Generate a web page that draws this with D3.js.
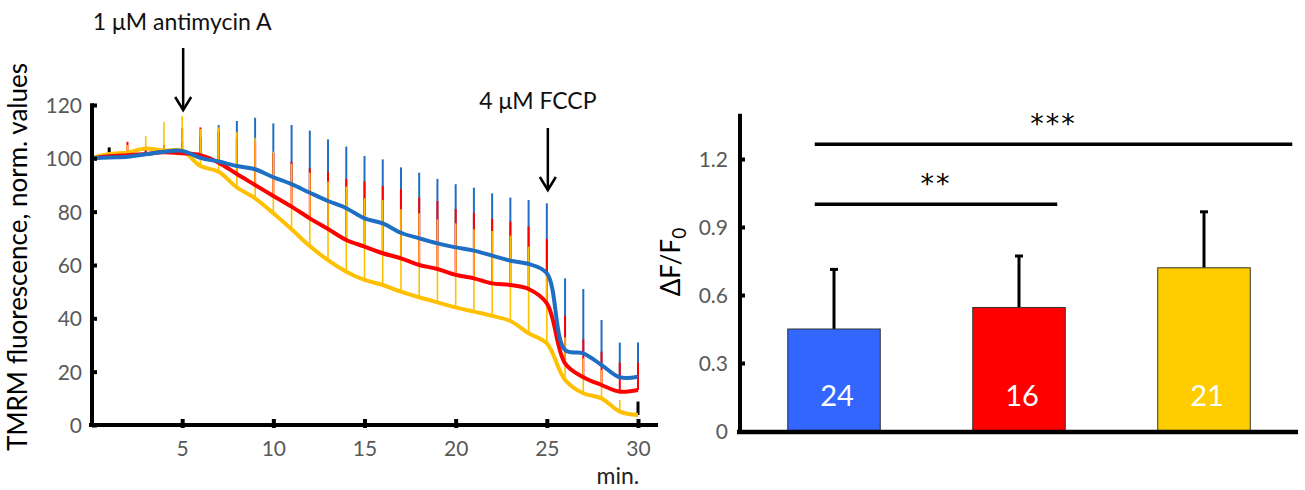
<!DOCTYPE html>
<html><head><meta charset="utf-8">
<script src="https://cdn.jsdelivr.net/npm/d3@7"></script>
<style>body{margin:0;background:#fff}svg{display:block}text{font-family:Lato,"Open Sans",sans-serif}</style>
</head><body>
<svg id="c" width="1305" height="490"></svg>
<script>
// ---------- Left panel data ----------
const minutes = [0,1,2,3,4,5,6,7,8,9,10,11,12,13,14,15,16,17,18,19,20,21,22,23,24,25,26,27,28,29,30];
const blueMean   = [100,100.3,100.6,101.5,102.5,102.8,100.2,98.8,97.1,95.9,92.9,90.3,87.1,84,81.3,77.5,75.6,72.1,70,68.1,66.6,65.4,63.5,61.6,60.4,56.9,28.1,26.9,22.5,17.9,18.1];
const redMean    = [100,100.8,101.2,101.6,102.3,101.9,101.2,98.4,94.1,90,85.9,81.9,77.5,73.5,69.4,66.9,64.4,62.5,60,58.5,56.3,55,53.1,52.5,51,45.6,23.1,17.9,15,12.5,13.1];
const yellowMean = [100,101.6,102.2,103.7,102.9,102.9,97.1,95,89.1,85,79.4,73.4,67.1,61.8,57.5,54.4,52.5,50,47.9,46,44.1,42.5,40.9,39,34.4,30.6,16.9,11.9,10,5,3.75];
const blueTop    = [100,101.5,102,104,104.5,106,108,112.5,114,115.2,113.1,112.5,110.4,107.1,104.4,100.9,99.6,96.6,94.6,92.3,90.3,89,86.9,85.3,84.4,83.1,55,51,39.4,30.9,30.9];
const redTop     = [100,102.5,106.2,104,105,111.3,111.6,110,108,106,102,98.75,96.25,95,92.3,91.3,89.6,88.5,85.3,84,81,79.6,77.3,76.3,74.4,69.75,41,32.1,27.5,23.4,23.4];
const yellowTop  = [100,104.1,105,108.4,113.7,115.9,111,111.6,110,107.75,102.5,98,94.6,91.3,89.4,85,84.4,80.9,79.4,77.1,75.6,73.4,72.75,71,66.9,57,32.9,25,20.6,9.4,8.8];
const yellowBlackErr = [1,30];
const leftYTicks = [0,20,40,60,80,100,120];
const leftXTicks = [5,10,15,20,25,30];
const events = [{t:5, label:"1 \u03BCM antimycin A"},{t:25, label:"4 \u03BCM FCCP"}];

// ---------- Right panel data ----------
const groups = ["G1","G2","G3"];
const nLabels = ["24","16","21"];
const barMeans = [0.45,0.545,0.72];
const barErrTop = [0.713,0.772,0.967];
const rightYTicks = [0,0.3,0.6,0.9,1.2];
const rightYTickLabels = ["0","0.3","0.6","0.9","1.2"];
const sigLevels = [1.0,1.265];
const sigLabels = ["**","***"];

const svg = d3.select("#c");
const GRAY = "#595959";
const TICKFS = "21px";

// ================= LEFT =================
const x = d3.scaleLinear().domain([0,30]).range([91,638]);
const y = d3.scaleLinear().domain([0,120]).range([425,105]);
const gL = svg.append("g");

const series = [
  {mean:blueMean, top:blueTop, color:"#1E6FC3", w:2},
  {mean:redMean, top:redTop, color:"#FF0000", w:2},
  {mean:yellowMean, top:yellowTop, color:"#FFC000", w:1.6}
];
series.forEach(s=>{
  gL.append("g").selectAll("line").data(minutes.filter(m=>s.top[m]>s.mean[m])).join("line")
    .attr("x1",d=>x(d)).attr("x2",d=>x(d))
    .attr("y1",d=>y(s.mean[d])).attr("y2",d=>y(s.top[d]))
    .attr("stroke",d=>(s.color==="#FFC000" && yellowBlackErr.includes(d))?"#000":s.color)
    .attr("stroke-width",d=>(s.color==="#FFC000" && yellowBlackErr.includes(d))?3:s.w);
});
const line = vals => d3.line().x(d=>x(d)).y(d=>y(vals[d])).curve(d3.curveCatmullRom.alpha(0.5))(minutes);
[[yellowMean,"#FFC000"],[redMean,"#FF0000"],[blueMean,"#1E6FC3"]].forEach(([v,c])=>{
  gL.append("path").attr("d",line(v)).attr("fill","none").attr("stroke",c).attr("stroke-width",4).attr("stroke-linejoin","round");
});

// axes
gL.append("line").attr("x1",x(0)-2).attr("x2",x(31.1)).attr("y1",y(0)).attr("y2",y(0)).attr("stroke","#000").attr("stroke-width",4);
gL.append("line").attr("x1",x(0)+1).attr("x2",x(0)+1).attr("y1",y(0)+2).attr("y2",y(120.7)).attr("stroke","#000").attr("stroke-width",4);
const yAx = gL.append("g").attr("transform",`translate(${x(0)+1},0)`)
  .call(d3.axisLeft(y).tickValues(leftYTicks).tickSize(-5).tickPadding(10).tickFormat(d3.format("d")));
yAx.select(".domain").remove();
yAx.selectAll(".tick line").attr("stroke","#000").attr("stroke-width",4);
yAx.selectAll("text").attr("fill",GRAY).style("font-size",TICKFS).attr("dy","0.36em");
const xAx = gL.append("g").attr("transform",`translate(0,${y(0)})`)
  .call(d3.axisBottom(x).tickValues(leftXTicks).tickSize(3).tickPadding(13));
xAx.select(".domain").remove();
xAx.selectAll(".tick line").attr("y1",-6).attr("stroke","#000").attr("stroke-width",4);
xAx.selectAll("text").attr("fill",GRAY).style("font-size",TICKFS);
gL.append("text").attr("x",x(28.9)).attr("y",484).attr("text-anchor","middle").style("font-size","23px").attr("fill","#222").text("min.");
gL.append("text").attr("transform","translate(27,257) rotate(-90)").attr("text-anchor","middle")
  .style("font-size","26px").attr("fill","#000").text("TMRM fluorescence, norm. values");

// arrows & labels
const arrowGeom = [{y1:48,y2:110,ty:30,dx:-1},{y1:128,y2:190,ty:109,dx:-10}];
events.forEach((e,i)=>{
  const a = arrowGeom[i], ax = x(e.t)+1;
  gL.append("line").attr("x1",ax).attr("x2",ax).attr("y1",a.y1).attr("y2",a.y2).attr("stroke","#000").attr("stroke-width",2.5);
  gL.append("path").attr("d",`M${ax-8},${a.y2-13}L${ax},${a.y2}L${ax+8},${a.y2-13}`).attr("fill","none").attr("stroke","#000").attr("stroke-width",2.5);
  gL.append("text").attr("x",ax+a.dx).attr("y",a.ty).attr("text-anchor","middle").style("font-size","23px").attr("fill","#111").text(e.label);
});

// ================= RIGHT =================
const AXR = 740;
const xb = d3.scaleBand().domain(groups).range([741.5,1296.5]).paddingInner(0.5).paddingOuter(0.25);
const yb = d3.scaleLinear().domain([0,1.2]).range([431,159]);
const gR = svg.append("g");
const barColors = ["#3366FF","#FF0000","#FFCC00"];

groups.forEach((g,i)=>{
  const cx = xb(g)+xb.bandwidth()/2;
  gR.append("line").attr("x1",cx).attr("x2",cx).attr("y1",yb(barMeans[i])).attr("y2",yb(barErrTop[i])).attr("stroke","#000").attr("stroke-width",3);
  gR.append("line").attr("x1",cx-4).attr("x2",cx+4).attr("y1",yb(barErrTop[i])).attr("y2",yb(barErrTop[i])).attr("stroke","#000").attr("stroke-width",3);
});
gR.selectAll("rect.bar").data(groups).join("rect").attr("class","bar")
  .attr("x",d=>xb(d)).attr("width",xb.bandwidth())
  .attr("y",(d,i)=>yb(barMeans[i])).attr("height",(d,i)=>yb(0)-yb(barMeans[i]))
  .attr("fill",(d,i)=>barColors[i]).attr("stroke","#333").attr("stroke-width",1);
gR.selectAll("text.n").data(groups).join("text").attr("class","n")
  .attr("x",d=>xb(d)+xb.bandwidth()/2+3).attr("y",406).attr("text-anchor","middle")
  .style("font-size","29px").attr("fill","#fff").text((d,i)=>nLabels[i]);

// axes
gR.append("line").attr("x1",AXR-3).attr("x2",1298).attr("y1",yb(0)+1).attr("y2",yb(0)+1).attr("stroke","#000").attr("stroke-width",4.5);
gR.append("line").attr("x1",AXR).attr("x2",AXR).attr("y1",yb(0)).attr("y2",yb(1.4)).attr("stroke","#000").attr("stroke-width",4);
const ybAx = gR.append("g").attr("transform",`translate(${AXR},0)`)
  .call(d3.axisLeft(yb).tickValues(rightYTicks).tickSize(-5).tickPadding(12).tickFormat((d,i)=>rightYTickLabels[i]));
ybAx.select(".domain").remove();
ybAx.selectAll(".tick line").attr("stroke","#000").attr("stroke-width",4);
ybAx.selectAll("text").attr("fill",GRAY).style("font-size",TICKFS).attr("dy","0.36em");
ybAx.selectAll(".tick").filter(d=>d===0).select("line").remove();

const yt = gR.append("text").attr("transform","translate(680,262) rotate(-90)").attr("text-anchor","middle")
  .style("font-size","26px").attr("fill","#000");
yt.append("tspan").text("\u0394F/F");
yt.append("tspan").attr("dy",6).style("font-size","19px").text("0");

// significance
const sigStart = xb("G1")+27;
const sigEnd = [xb("G2")+xb.bandwidth()-8, xb("G3")+xb.bandwidth()+42];
sigLevels.forEach((lv,i)=>{
  gR.append("line").attr("x1",sigStart).attr("x2",sigEnd[i]).attr("y1",yb(lv)).attr("y2",yb(lv)).attr("stroke","#000").attr("stroke-width",3.5);
  gR.append("text").attr("x",(sigStart+sigEnd[i])/2).attr("y",yb(lv)-11).attr("text-anchor","middle")
    .style("font-family","'DejaVu Sans',sans-serif").style("font-size","27px").style("letter-spacing","2px").attr("fill","#000").text(sigLabels[i]);
});
</script>
</body></html>
